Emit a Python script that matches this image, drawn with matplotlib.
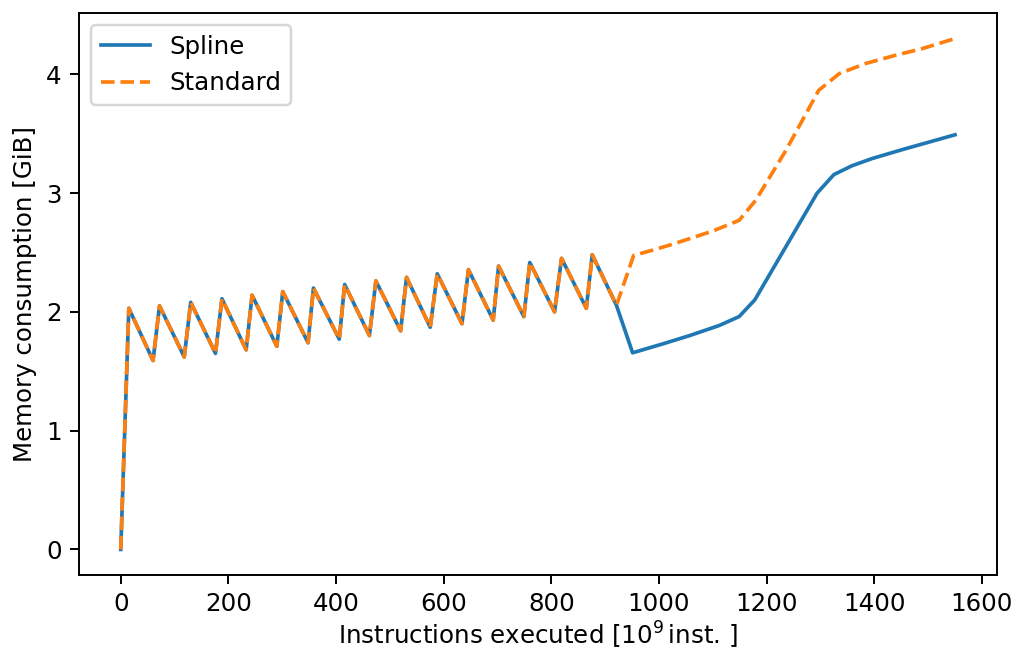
import matplotlib
matplotlib.use("Agg")
import matplotlib.pyplot as plt

# Shared sawtooth section (both series)
common_x = [0, 15, 60, 72, 118, 130, 176, 188, 233, 244, 290, 301, 348, 358,
            406, 416, 462, 474, 520, 531, 575, 588, 634, 646, 692, 702, 749,
            760, 806, 819, 865, 876, 921]
common_y = [0.0, 2.03, 1.59, 2.05, 1.62, 2.08, 1.65, 2.11, 1.68, 2.14, 1.71,
            2.17, 1.74, 2.20, 1.77, 2.23, 1.80, 2.26, 1.84, 2.29, 1.87, 2.32,
            1.90, 2.355, 1.93, 2.385, 1.96, 2.415, 2.00, 2.45, 2.03, 2.48, 2.055]

spline_tail_x = [951, 1007, 1057, 1112, 1149, 1178, 1236, 1294, 1325, 1359,
                 1396, 1452, 1550]
spline_tail_y = [1.655, 1.73, 1.80, 1.885, 1.96, 2.10, 2.55, 3.0, 3.155, 3.23,
                 3.29, 3.365, 3.49]

standard_tail_x = [953, 989, 1026, 1063, 1100, 1149, 1180, 1236, 1297, 1335,
                   1384, 1440, 1489, 1550]
standard_tail_y = [2.475, 2.52, 2.57, 2.625, 2.68, 2.77, 2.94, 3.36, 3.865,
                   4.005, 4.09, 4.16, 4.215, 4.30]

spline_x = common_x + spline_tail_x
spline_y = common_y + spline_tail_y
standard_x = common_x + standard_tail_x
standard_y = common_y + standard_tail_y

DPI = 176
fig = plt.figure(figsize=(1016 / DPI, 650 / DPI), dpi=DPI)
ax = fig.add_axes([0.0778, 0.1154, 0.9032, 0.8646])
ax.plot(spline_x, spline_y, color="#1f77b4", lw=1.5, label="Spline")
ax.plot(standard_x, standard_y, color="#ff7f0e", lw=1.5, ls="--", label="Standard")
ax.set_xlabel(r"Instructions executed [$10^9\,$inst. ]", labelpad=1.5)
ax.set_ylabel("Memory consumption [GiB]")
ax.set_xticks([0, 200, 400, 600, 800, 1000, 1200, 1400, 1600])
ax.set_yticks([0, 1, 2, 3, 4])
ax.legend(loc="upper left")
fig.savefig("out.png", dpi=DPI)
